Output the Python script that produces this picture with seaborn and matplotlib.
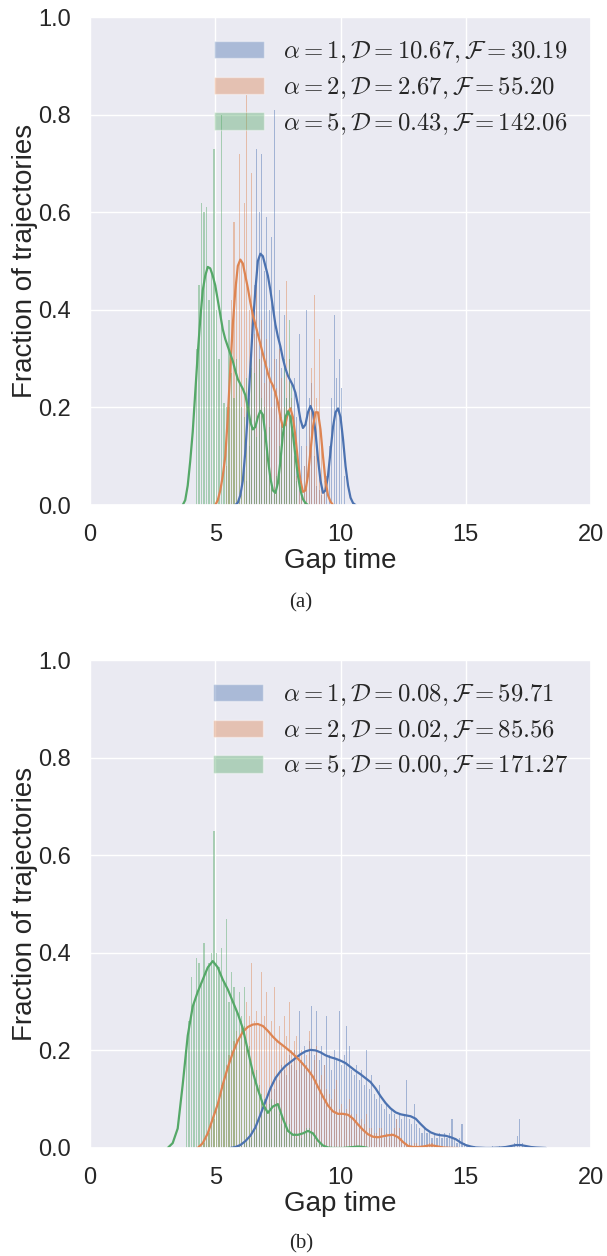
import numpy as np
import matplotlib
matplotlib.use("Agg")
import matplotlib.pyplot as plt
from matplotlib.patches import Patch
import seaborn as sns

# bar width of the gap-time histograms
GAP_BIN = 0.1

# ---------------- panel (a) ----------------
# histogram bar heights (first bar centre given by *_START)
A_BLUE_HIST_START = 6.25
A_BLUE_HIST = [0.05, 0.12, 0.28, 0.45, 0.73, 0.60, 0.72, 0.48, 0.59, 0.40,
               0.55, 0.81, 0.30, 0.44, 0.28, 0.39, 0.22, 0.30, 0.20, 0.26,
               0.18, 0.35, 0.12, 0.08, 0.40, 0.22, 0.25, 0.10, 0.04, 0.03,
               0.02, 0.03, 0.06, 0.12, 0.22, 0.39, 0.26, 0.30, 0.24, 0.06]
A_ORANGE_HIST_START = 5.45
A_ORANGE_HIST = [0.08, 0.20, 0.42, 0.58, 0.45, 0.72, 0.50, 0.62, 0.84, 0.40,
                 0.68, 0.35, 0.48, 0.30, 0.38, 0.25, 0.34, 0.28, 0.20, 0.30,
                 0.24, 0.32, 0.26, 0.20, 0.46, 0.30, 0.22, 0.10, 0.06, 0.04,
                 0.05, 0.08, 0.12, 0.20, 0.28, 0.43, 0.22, 0.34, 0.12, 0.05]
A_GREEN_HIST_START = 4.25
A_GREEN_HIST = [0.32, 0.45, 0.62, 0.60, 0.61, 0.42, 0.48, 0.73, 0.40, 0.30,
                0.80, 0.21, 0.20, 0.38, 0.27, 0.22, 0.30, 0.25, 0.20, 0.18,
                0.26, 0.22, 0.35, 0.27, 0.14, 0.30, 0.22, 0.20, 0.12, 0.16,
                0.05, 0.03, 0.06, 0.12, 0.18, 0.30, 0.22, 0.38, 0.25, 0.10,
                0.05]

# kde curves, sampled every KDE_STEP_A starting at *_KDE_START
KDE_STEP_A = 0.1
A_BLUE_KDE_START = 5.8
A_BLUE_KDE = [0.0, 0.005, 0.02, 0.05, 0.11, 0.19, 0.28, 0.37, 0.44, 0.50,
              0.515, 0.51, 0.49, 0.47, 0.44, 0.405, 0.37, 0.345, 0.325, 0.30,
              0.28, 0.265, 0.255, 0.245, 0.23, 0.205, 0.175, 0.158, 0.165, 0.19,
              0.203, 0.19, 0.15, 0.095, 0.05, 0.025, 0.03, 0.06, 0.11, 0.16,
              0.19, 0.198, 0.18, 0.135, 0.08, 0.04, 0.015, 0.004, 0.0]
A_ORANGE_KDE_START = 5.0
A_ORANGE_KDE = [0.0, 0.01, 0.03, 0.06, 0.10, 0.18, 0.28, 0.37, 0.44, 0.49,
                0.503, 0.495, 0.47, 0.445, 0.415, 0.39, 0.37, 0.35, 0.33, 0.31,
                0.29, 0.27, 0.255, 0.245, 0.23, 0.21, 0.18, 0.16, 0.165, 0.19,
                0.198, 0.18, 0.14, 0.09, 0.05, 0.027, 0.03, 0.06, 0.11, 0.16,
                0.19, 0.19, 0.155, 0.10, 0.05, 0.02, 0.007, 0.0]
A_GREEN_KDE_START = 3.7
A_GREEN_KDE = [0.0, 0.01, 0.04, 0.09, 0.15, 0.23, 0.31, 0.38, 0.44, 0.47,
               0.488, 0.485, 0.47, 0.45, 0.42, 0.39, 0.36, 0.34, 0.325, 0.31,
               0.295, 0.275, 0.258, 0.248, 0.238, 0.225, 0.20, 0.17, 0.155, 0.16,
               0.18, 0.193, 0.185, 0.145, 0.095, 0.055, 0.03, 0.025, 0.045, 0.09,
               0.145, 0.18, 0.192, 0.18, 0.145, 0.10, 0.06, 0.03, 0.012, 0.004,
               0.0]

A_LABELS = [r"$\alpha=1, \mathcal{D}=10.67, \mathcal{F}=30.19$",
            r"$\alpha=2, \mathcal{D}=2.67, \mathcal{F}=55.20$",
            r"$\alpha=5, \mathcal{D}=0.43, \mathcal{F}=142.06$"]

# ---------------- panel (b) ----------------
B_BLUE_HIST_START = 6.05
B_BLUE_HIST = [0.005, 0.01, 0.01, 0.02, 0.02, 0.03, 0.05, 0.06, 0.07, 0.09,
               0.10, 0.12, 0.13, 0.12, 0.15, 0.14, 0.17, 0.16, 0.15, 0.19,
               0.17, 0.20, 0.16, 0.28, 0.18, 0.21, 0.17, 0.22, 0.29, 0.19,
               0.28, 0.18, 0.21, 0.17, 0.27, 0.19, 0.16, 0.20, 0.18, 0.28,
               0.17, 0.19, 0.25, 0.21, 0.16, 0.15, 0.17, 0.14, 0.16, 0.13,
               0.20, 0.12, 0.15, 0.11, 0.10, 0.13, 0.09, 0.08, 0.09, 0.07,
               0.08, 0.07, 0.06, 0.07, 0.06, 0.07, 0.14, 0.06, 0.05, 0.09,
               0.05, 0.04, 0.03, 0.04, 0.03, 0.03, 0.02, 0.03, 0.02, 0.03,
               0.02, 0.03, 0.02, 0.03, 0.06, 0.02, 0.01, 0.02, 0.05, 0.01,
               0.005, 0.005, 0.0, 0.005, 0.0, 0.0, 0.0, 0.0, 0.0, 0.0,
               0.005, 0.0, 0.0, 0.005, 0.0, 0.0, 0.0, 0.0, 0.0, 0.01,
               0.025, 0.06, 0.01]
B_ORANGE_HIST_START = 4.55
B_ORANGE_HIST = [0.01, 0.02, 0.03, 0.05, 0.06, 0.08, 0.10, 0.13, 0.14, 0.17,
                 0.19, 0.20, 0.22, 0.24, 0.23, 0.26, 0.25, 0.30, 0.27, 0.38,
                 0.26, 0.28, 0.25, 0.36, 0.27, 0.32, 0.24, 0.26, 0.33, 0.22,
                 0.25, 0.21, 0.27, 0.23, 0.30, 0.20, 0.22, 0.23, 0.18, 0.20,
                 0.17, 0.19, 0.24, 0.16, 0.18, 0.21, 0.14, 0.15, 0.17, 0.12,
                 0.11, 0.10, 0.12, 0.14, 0.08, 0.09, 0.07, 0.08, 0.10, 0.07,
                 0.06, 0.07, 0.05, 0.06, 0.05, 0.07, 0.04, 0.04, 0.03, 0.03,
                 0.04, 0.04, 0.02, 0.03, 0.02, 0.03, 0.04, 0.06, 0.04, 0.02,
                 0.01, 0.01, 0.01, 0.005, 0.01, 0.01, 0.005, 0.005, 0.0, 0.005,
                 0.01, 0.01, 0.005]
B_GREEN_HIST_START = 3.85
B_GREEN_HIST = [0.19, 0.26, 0.35, 0.30, 0.39, 0.38, 0.34, 0.42, 0.36, 0.38,
                0.40, 0.65, 0.40, 0.37, 0.41, 0.34, 0.47, 0.30, 0.36, 0.33,
                0.28, 0.32, 0.27, 0.33, 0.22, 0.21, 0.17, 0.15, 0.16, 0.13,
                0.11, 0.10, 0.08, 0.09, 0.10, 0.08, 0.09, 0.07, 0.05, 0.05,
                0.04, 0.05, 0.03, 0.03, 0.02, 0.03, 0.02, 0.03, 0.04, 0.04,
                0.03, 0.02, 0.01, 0.01, 0.01, 0.005, 0.005]

KDE_STEP_B = 0.2
B_BLUE_KDE_START = 5.6
B_BLUE_KDE = [0.0, 0.002, 0.006, 0.014, 0.025, 0.042, 0.068, 0.095, 0.122, 0.143,
              0.157, 0.168, 0.176, 0.184, 0.192, 0.198, 0.201, 0.2, 0.196, 0.19,
              0.186, 0.183, 0.179, 0.174, 0.166, 0.158, 0.151, 0.143, 0.135, 0.122,
              0.106, 0.092, 0.081, 0.073, 0.069, 0.067, 0.065, 0.06, 0.049, 0.039,
              0.032, 0.028, 0.026, 0.025, 0.022, 0.018, 0.011, 0.006, 0.003, 0.001,
              0.0005, 0.0, 0.0, 0.0005, 0.001, 0.002, 0.004, 0.006, 0.006, 0.004,
              0.002, 0.001, 0.0005, 0.0]
B_ORANGE_KDE_START = 4.3
B_ORANGE_KDE = [0.0, 0.01, 0.03, 0.06, 0.09, 0.13, 0.165, 0.195, 0.22, 0.238,
                0.248, 0.253, 0.254, 0.25, 0.24, 0.228, 0.218, 0.21, 0.202, 0.193,
                0.183, 0.172, 0.16, 0.146, 0.125, 0.105, 0.087, 0.075, 0.07, 0.07,
                0.068, 0.06, 0.048, 0.037, 0.028, 0.023, 0.022, 0.024, 0.026, 0.027,
                0.022, 0.012, 0.004, 0.002, 0.002, 0.003, 0.005, 0.005, 0.003, 0.001,
                0.0005, 0.0, 0.0]
B_GREEN_KDE_START = 3.1
B_GREEN_KDE = [0.0, 0.01, 0.04, 0.13, 0.23, 0.29, 0.32, 0.345, 0.37, 0.383,
               0.37, 0.345, 0.325, 0.30, 0.275, 0.245, 0.20, 0.155, 0.12, 0.09,
               0.072, 0.085, 0.09, 0.06, 0.035, 0.027, 0.027, 0.03, 0.035, 0.03,
               0.015, 0.005, 0.001, 0.0, 0.0, 0.0, 0.001, 0.002, 0.003, 0.002,
               0.0]

B_LABELS = [r"$\alpha=1, \mathcal{D}=0.08, \mathcal{F}=59.71$",
            r"$\alpha=2, \mathcal{D}=0.02, \mathcal{F}=85.56$",
            r"$\alpha=5, \mathcal{D}=0.00, \mathcal{F}=171.27$"]

X_TICKS = [0, 5, 10, 15, 20]
Y_TICKS = [0.0, 0.2, 0.4, 0.6, 0.8, 1.0]

sns.set_theme(style="darkgrid")
plt.rcParams["font.family"] = ["Liberation Sans", "DejaVu Sans"]
plt.rcParams["mathtext.fontset"] = "cm"
COLORS = sns.color_palette("deep")[:3]


def draw_panel(ax, series, labels, kde_step):
    for color, h_start, heights, k_start, kde in series:
        centres = h_start + GAP_BIN * np.arange(len(heights))
        sns.histplot(x=centres, weights=heights, binwidth=GAP_BIN,
                     binrange=(centres[0] - GAP_BIN / 2, centres[-1] + GAP_BIN / 2),
                     stat="count", color=color, alpha=0.45, shrink=0.45,
                     linewidth=0, ax=ax)
        kx = k_start + kde_step * np.arange(len(kde))
        sns.lineplot(x=kx, y=kde, color=color, linewidth=1.6, ax=ax)

    ax.set_xlim(0, 20)
    ax.set_ylim(0, 1.0)
    ax.set_xticks(X_TICKS)
    ax.set_yticks(Y_TICKS)
    ax.set_yticklabels([f"{t:.1f}" for t in Y_TICKS])
    ax.tick_params(labelsize=17, pad=8)
    ax.set_xlabel("Gap time", fontsize=20, labelpad=1)
    ax.set_ylabel("Fraction of trajectories", fontsize=20, labelpad=0)

    handles = [Patch(facecolor=c, edgecolor="white", alpha=0.4, linewidth=1)
               for c in COLORS]
    ax.legend(handles, labels, loc="upper right", bbox_to_anchor=(0.998, 1.0),
              frameon=False, fontsize=17.8, handlelength=2.0,
              handletextpad=0.8, labelspacing=0.4)


fig = plt.figure(figsize=(6.07, 12.56), dpi=100)
ax_a = fig.add_axes([0.1483, 0.5979, 0.8254, 0.3885])
ax_b = fig.add_axes([0.1483, 0.0860, 0.8254, 0.3885])

draw_panel(ax_a, [
    (COLORS[0], A_BLUE_HIST_START, A_BLUE_HIST, A_BLUE_KDE_START, A_BLUE_KDE),
    (COLORS[1], A_ORANGE_HIST_START, A_ORANGE_HIST, A_ORANGE_KDE_START, A_ORANGE_KDE),
    (COLORS[2], A_GREEN_HIST_START, A_GREEN_HIST, A_GREEN_KDE_START, A_GREEN_KDE),
], A_LABELS, KDE_STEP_A)

draw_panel(ax_b, [
    (COLORS[0], B_BLUE_HIST_START, B_BLUE_HIST, B_BLUE_KDE_START, B_BLUE_KDE),
    (COLORS[1], B_ORANGE_HIST_START, B_ORANGE_HIST, B_ORANGE_KDE_START, B_ORANGE_KDE),
    (COLORS[2], B_GREEN_HIST_START, B_GREEN_HIST, B_GREEN_KDE_START, B_GREEN_KDE),
], B_LABELS, KDE_STEP_B)

fig.text(301 / 607, 1 - 603 / 1256, "(a)", ha="center", va="center",
         family="Liberation Serif", fontsize=15)
fig.text(301 / 607, 1 - 1244 / 1256, "(b)", ha="center", va="center",
         family="Liberation Serif", fontsize=15)

fig.savefig("out.png", dpi=100)
